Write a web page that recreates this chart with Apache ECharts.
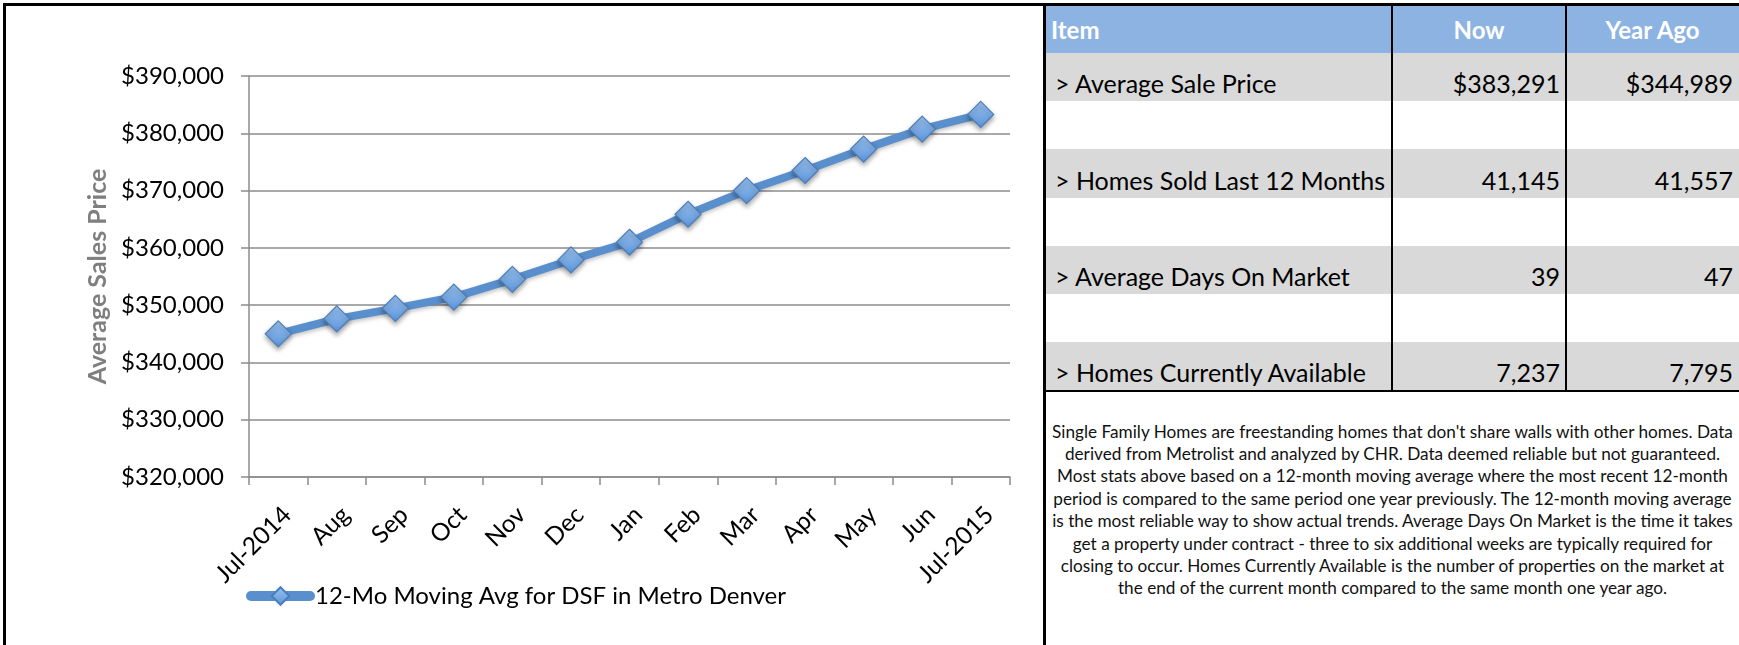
<!DOCTYPE html>
<html>
<head>
<meta charset="utf-8">
<script src="https://cdn.jsdelivr.net/npm/echarts@6/dist/echarts.min.js"></script>
<style>
  html, body { margin: 0; padding: 0; background: #fff; width: 1739px; height: 645px; overflow: hidden; position: relative; font-family: Lato, "Open Sans", sans-serif; }
  #chart { position: absolute; left: 0; top: 0; width: 1044px; height: 645px; }
  .frameTop { position: absolute; left: 3px; top: 3px; width: 1736px; height: 3px; background: #000; }
  .frameLeft { position: absolute; left: 3px; top: 3px; width: 3px; height: 642px; background: #000; }
  .divider { position: absolute; left: 1043px; top: 3px; width: 3px; height: 642px; background: #000; }
  #table { position: absolute; left: 1046px; top: 6px; width: 693px; }
  .row { position: absolute; left: 0; width: 693px; }
  .cell { position: absolute; top: 0; height: 100%; display: flex; align-items: flex-end; white-space: nowrap; color: #000; font-size: 25px; line-height: 30px; padding-bottom: 3px; box-sizing: border-box; }
  .hdr .cell { color: #fff; font-weight: bold; font-size: 24px; align-items: center; padding-bottom: 0; }
  .vline { position: absolute; width: 2px; background: #000; }
  .hline { position: absolute; height: 2px; background: #000; }
  #note { position: absolute; left: 1046px; top: 420.5px; width: 693px; text-align: center; font-size: 17.2px; line-height: 22.4px; color: #111; }
  #note div { white-space: nowrap; }
</style>
</head>
<body>
<div class="frameTop"></div>
<div class="frameLeft"></div>
<div class="divider"></div>
<div id="chart"></div>
<div id="table"></div>
<div id="note"></div>
<script>
// ---- chart data ----
const months = ['Jul-2014','Aug','Sep','Oct','Nov','Dec','Jan','Feb','Mar','Apr','May','Jun','Jul-2015'];
const movingAvg = [344989, 347600, 349440, 351400, 354510, 357890, 360980, 365870, 370000, 373500, 377240, 380730, 383291];
const seriesName = '12-Mo Moving Avg for DSF in Metro Denver';
const yAxisTitle = 'Average Sales Price';

// ---- table data ----
const tableHeaders = ['Item', 'Now', 'Year Ago'];
const tableItems = ['> Average Sale Price', '> Homes Sold Last 12 Months', '> Average Days On Market', '> Homes Currently Available'];
const tableNow = ['$383,291', '41,145', '39', '7,237'];
const tableYearAgo = ['$344,989', '41,557', '47', '7,795'];
const noteLines = [
  "Single Family Homes are freestanding homes that don't share walls with other homes. Data",
  "derived from Metrolist and analyzed by CHR. Data deemed reliable but not guaranteed.",
  "Most stats above based on a 12-month moving average where the most recent 12-month",
  "period is compared to the same period one year previously. The 12-month moving average",
  "is the most reliable way to show actual trends. Average Days On Market is the time it takes",
  "get a property under contract - three to six additional weeks are typically required for",
  "closing to occur. Homes Currently Available is the number of properties on the market at",
  "the end of the current month compared to the same month one year ago."
];

// ---- build table ----
(function () {
  const t = document.getElementById('table');
  const colX = [0, 346, 520, 693];   // column boundaries relative to table left
  const hdrH = 47, rowH = 48.2;
  function addRow(top, h, bg, cells, cls) {
    const r = document.createElement('div');
    r.className = 'row ' + (cls || '');
    r.style.top = top + 'px'; r.style.height = h + 'px'; r.style.background = bg;
    cells.forEach((txt, i) => {
      const c = document.createElement('div');
      c.className = 'cell';
      c.textContent = txt;
      c.style.left = colX[i] + 'px';
      c.style.width = (colX[i + 1] - colX[i]) + 'px';
      if (i === 0) { c.style.justifyContent = 'flex-start'; c.style.paddingLeft = (cls === 'hdr' ? '5px' : '9px'); }
      else if (cls === 'hdr') { c.style.justifyContent = 'center'; }
      else { c.style.justifyContent = 'flex-end'; c.style.paddingRight = '6px'; }
      r.appendChild(c);
    });
    t.appendChild(r);
  }
  addRow(0, hdrH, '#8db3e2', tableHeaders, 'hdr');
  tableItems.forEach((it, k) => {
    const top = hdrH + k * 2 * rowH;
    addRow(top, rowH, '#d9d9d9', [it, tableNow[k], tableYearAgo[k]]);
    if (k < tableItems.length - 1) addRow(top + rowH, rowH, '#ffffff', ['', '', '']);
  });
  const totalH = hdrH + (tableItems.length * 2 - 1) * rowH;
  [colX[1] - 1, colX[2] - 1].forEach(x => {
    const v = document.createElement('div');
    v.className = 'vline';
    v.style.left = x + 'px'; v.style.top = '0px'; v.style.height = totalH + 'px';
    t.appendChild(v);
  });
  const h = document.createElement('div');
  h.className = 'hline';
  h.style.left = '0px'; h.style.top = totalH + 'px'; h.style.width = '693px';
  t.appendChild(h);

  const note = document.getElementById('note');
  noteLines.forEach(l => { const d = document.createElement('div'); d.textContent = l; note.appendChild(d); });
})();

// ---- chart ----
const chart = echarts.init(document.getElementById('chart'), null, { renderer: 'canvas' });
const fontFam = 'Lato, "Open Sans", sans-serif';
chart.setOption({
  animation: false,
  grid: { left: 249, top: 76, width: 761, height: 401, containLabel: false },
  legend: {
    data: [seriesName],
    left: 246, top: 584, padding: 0,
    itemWidth: 59, itemHeight: 22, itemGap: 10,
    textStyle: { fontFamily: fontFam, fontSize: 24, color: '#000' },
    lineStyle: { width: 10, cap: 'round', color: '#5a8fcd' }
  },
  xAxis: {
    type: 'category',
    data: months,
    boundaryGap: true,
    axisLine: { show: true, lineStyle: { color: '#8c8c8c', width: 1.5 } },
    axisTick: { show: true, length: 8, alignWithLabel: false, lineStyle: { color: '#8c8c8c', width: 1.5 } },
    axisLabel: { rotate: 45, interval: 0, margin: 25, verticalAlign: 'top', fontFamily: fontFam, fontSize: 24.5, color: '#000' },
    splitLine: { show: false }
  },
  yAxis: {
    type: 'value',
    min: 320000, max: 390000, interval: 10000,
    name: yAxisTitle,
    nameLocation: 'middle',
    nameGap: 134,
    nameRotate: 90,
    nameTextStyle: { fontFamily: fontFam, fontSize: 25, fontWeight: 'bold', color: '#7f7f7f' },
    axisLine: { show: true, lineStyle: { color: '#8c8c8c', width: 1.5 } },
    axisTick: { show: true, length: 8, lineStyle: { color: '#8c8c8c', width: 1.5 } },
    axisLabel: {
      margin: 25, fontFamily: fontFam, fontSize: 24, color: '#000',
      formatter: v => '$' + v.toLocaleString('en-US')
    },
    splitLine: { show: true, lineStyle: { color: '#8c8c8c', width: 1.5 } }
  },
  series: [{
    name: seriesName,
    type: 'line',
    data: movingAvg,
    symbol: 'diamond',
    symbolSize: 26,
    lineStyle: { width: 8, color: '#5a8fcd', shadowColor: 'rgba(0,0,0,0.25)', shadowBlur: 4, shadowOffsetY: 2 },
    itemStyle: {
      color: new echarts.graphic.LinearGradient(0, 0, 0, 1, [
        { offset: 0, color: '#9cc3f0' },
        { offset: 1, color: '#5b94da' }
      ]),
      borderColor: '#4a7ebb', borderWidth: 1.2,
      shadowColor: 'rgba(0,0,0,0.35)', shadowBlur: 5, shadowOffsetY: 3
    },
    emphasis: { disabled: true }
  }]
});
</script>
</body>
</html>
